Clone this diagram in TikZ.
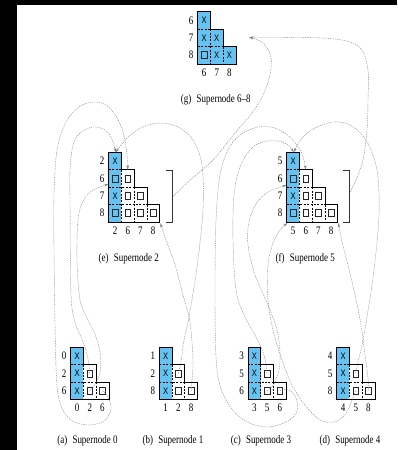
\documentclass[tikz,border=0pt]{standalone}
\usepackage{fontspec}
\usepackage{graphicx}
\setmainfont[FakeStretch=0.78]{Liberation Serif}
\newfontfamily\cellfont[FakeStretch=0.8]{Liberation Sans}
\usetikzlibrary{arrows.meta}
\definecolor{snblue}{RGB}{102,194,240}
\definecolor{linkgray}{RGB}{135,135,135}
\def\cw{12.7}
\def\ch{17.4}
\tikzset{
  outline/.style={draw=black, line width=0.6pt, line join=miter},
  innerline/.style={draw=black, line width=0.5pt, dash pattern=on 2pt off 1.4pt},
  cellx/.style={font=\cellfont\fontsize{9.5}{10}\selectfont, inner sep=0pt},
  cellsq/.style={draw=black!85, line width=0.55pt, minimum width=5.6pt, minimum height=7pt, inner sep=0pt},
  lbl/.style={font=\fontsize{11.5}{13}\selectfont, inner sep=0pt},
  captext/.style={font=\fontsize{11.5}{13}\selectfont, inner sep=0pt},
  bracket/.style={draw=black!80, line width=0.6pt},
  conn/.style={draw=linkgray, line width=0.4pt, dash pattern=on 1.3pt off 1pt,
    -{Stealth[length=4.5pt,width=2.6pt]}},
}

% staircase block: name, x0, y0, rows, all columns shaded (1) or only the first (0)
\newcommand{\snblock}[5]{%
  \begin{scope}[shift={(#2,#3)}]
    \pgfmathtruncatemacro{\snm}{#4-1}
    \ifnum#5=1
      \fill[snblue] (0,0) \foreach \k in {1,...,#4}{ -- ++(\cw,0) -- ++(0,\ch) } -- (0,#4*\ch) -- cycle;
    \else
      \fill[snblue] (0,0) rectangle (\cw,#4*\ch);
    \fi
    \foreach \r in {1,...,\snm}{
      \draw[innerline] (0,\r*\ch) -- (\r*\cw,\r*\ch);
      \draw[innerline] (\r*\cw,\r*\ch) -- (\r*\cw,#4*\ch);
    }
    \draw[outline] (0,0) \foreach \k in {1,...,#4}{ -- ++(\cw,0) -- ++(0,\ch) } -- (0,#4*\ch) -- cycle;
    \foreach \r in {1,...,#4}{
      \foreach \c in {1,...,\r}{
        \coordinate (#1-\r-\c) at ({(\c-0.5)*\cw},{(\r-0.5)*\ch});
      }
    }
  \end{scope}}

% cell contents: name, cells holding X, cells holding a small square
\newcommand{\snmarks}[3]{%
  \foreach \r/\c in {#2}{\node[cellx] (#1-\r-\c-x) at (#1-\r-\c) {X};}
  \foreach \r/\c in {#3}{\node[cellsq] (#1-\r-\c-sq) at (#1-\r-\c) {};}}

% row and column indices: name, x0, y0, rows, row labels, column labels
\newcommand{\snlabels}[6]{%
  \foreach \l [count=\i] in {#5}{\node[lbl] (#1-row\i) at (#2-6.5,{#3+(\i-0.5)*\ch}) {\l};}
  \foreach \l [count=\i] in {#6}{\node[lbl] (#1-col\i) at ({#2+(\i-0.5)*\cw},{#3+#4*\ch+8.6}) {\l};}}

\begin{document}
\begin{tikzpicture}[x=1pt,y=-1pt]
\useasboundingbox (0,0) rectangle (397,450);
\fill[black] (0,0) rectangle (397,450);
\fill[white] (17,5) rectangle (397,450);

% supernode 6-8
\snblock{g}{197.7}{11.7}{3}{1}
\snmarks{g}{1/1,2/1,2/2,3/2,3/3}{3/1}
\snlabels{g}{197.7}{11.7}{3}{6,7,8}{6,7,8}
\node[captext] (cap-g) at (215.8,99.3) {(g)\hspace{0.45em}Supernode 6--8};

% supernodes 2 and 5
\snblock{e}{108.7}{152.3}{4}{0}
\snmarks{e}{1/1,3/1}{2/1,2/2,3/2,3/3,4/1,4/2,4/3,4/4}
\snlabels{e}{108.7}{152.3}{4}{2,6,7,8}{2,6,7,8}
\node[captext] (cap-e) at (128.8,258.3) {(e)\hspace{0.45em}Supernode 2};

\snblock{f}{286.7}{152.3}{4}{0}
\snmarks{f}{1/1,3/1}{2/1,2/2,3/2,3/3,4/1,4/2,4/3,4/4}
\snlabels{f}{286.7}{152.3}{4}{5,6,7,8}{5,6,7,8}
\node[captext] (cap-f) at (305.3,258.3) {(f)\hspace{0.45em}Supernode 5};

% brackets around the update parts
\draw[bracket] (166,170.7) -- (172.7,170.7) -- (172.7,222.7) -- (166,222.7);
\draw[bracket] (343.3,170.7) -- (349.3,170.7) -- (349.3,222.7) -- (343.3,222.7);
\coordinate (e-br) at (173.5,196);
\coordinate (f-br) at (350.3,192);

% leaf supernodes
\snblock{a}{70.7}{347.3}{3}{0}
\snmarks{a}{1/1,2/1,3/1}{2/2,3/2,3/3}
\snlabels{a}{70.7}{347.3}{3}{0,2,6}{0,2,6}
\node[captext] (cap-a) at (87.5,440.7) {(a)\hspace{0.45em}Supernode 0};

\snblock{b}{159.3}{347.3}{3}{0}
\snmarks{b}{1/1,2/1,3/1}{2/2,3/2,3/3}
\snlabels{b}{159.3}{347.3}{3}{1,2,8}{1,2,8}
\node[captext] (cap-b) at (173,440.7) {(b)\hspace{0.45em}Supernode 1};

\snblock{c}{248}{347.3}{3}{0}
\snmarks{c}{1/1,2/1,3/1}{2/2,3/2,3/3}
\snlabels{c}{248}{347.3}{3}{3,5,6}{3,5,6}
\node[captext] (cap-c) at (261,440.7) {(c)\hspace{0.45em}Supernode 3};

\snblock{d}{336.7}{347.3}{3}{0}
\snmarks{d}{1/1,2/1,3/1}{2/2,3/2,3/3}
\snlabels{d}{336.7}{347.3}{3}{4,5,8}{4,5,8}
\node[captext] (cap-d) at (350,440.7) {(d)\hspace{0.45em}Supernode 4};

% arrow targets on the parent blocks
\coordinate (e-in-top) at (115.7,152.3);
\coordinate (e-in-c6) at (127.8,169.7);
\coordinate (e-in-r6) at (108.7,184);
\coordinate (e-in-br) at (160.3,223);
\coordinate (f-in-top) at (293.7,152.3);
\coordinate (f-in-c6) at (305.8,169.7);
\coordinate (f-in-r6) at (286.7,185);
\coordinate (f-in-br) at (338.3,223);
\coordinate (f-in-bl) at (287.5,223);
\coordinate (g-in) at (249,37.5);

% updates of supernode 0
\draw[conn] plot[smooth,tension=0.55] coordinates {(a-3-3) (108,397) (111,409) (104,421) (88,425) (71,420) (60,403) (56,367) (54,250) (54,195) (57,150) (66,122) (79,107) (93,102) (106,105) (116,116) (123,132) (126.5,150) (e-in-c6)};
\draw[conn] plot[smooth,tension=0.55] coordinates {(a-2-2) (88.5,362) (86,350) (81,337) (75,322) (71,295) (70,200) (70,170) (73,145) (80,133) (93,127) (105,130) (112,139) (e-in-top)};
\draw[conn] plot[smooth,tension=0.55] coordinates {(a-3-2) (96,383) (100.5,370) (100,352) (95,334) (88,320) (80,300) (77,260) (78,220) (83,201) (93,190) (e-in-r6)};

% updates of supernode 1
\draw[conn] plot[smooth,tension=0.55] coordinates {(b-2-2) (181,362) (184,340) (189,317) (197,267) (203,210) (202,165) (193,140) (178,127) (160,123) (143,127) (128,137) (e-in-top)};
\draw[conn] plot[smooth,tension=0.55] coordinates {(b-3-3) (192,380) (193,360) (190,322) (183,295) (175,265) (166,240) (e-in-br)};

% updates of supernode 3
\draw[conn] plot[smooth,tension=0.55] coordinates {(c-3-3) (289,390) (296,398) (297,411) (288,421) (268,427) (245,421) (227,402) (217,370) (215,300) (216,220) (220,175) (228,150) (240,135) (258,127) (275,128) (290,137) (300,150) (304,160) (f-in-c6)};
\draw[conn] plot[smooth,tension=0.55] coordinates {(c-2-2) (264,355) (256,337) (244,315) (236,290) (233,240) (234,195) (240,167) (250,150) (262,142) (278,141) (288,145) (f-in-top)};
\draw[conn] plot[smooth,tension=0.55] coordinates {(c-3-2) (274,384) (279,370) (280,353) (277,330) (268,305) (255,275) (248,245) (249,222) (256,204) (268,192) (f-in-r6)};

% updates of supernode 4
\draw[conn] plot[smooth,tension=0.55] coordinates {(d-2-2) (358,362) (362,345) (367,317) (374,270) (379,215) (377,170) (366,140) (350,125) (333,122) (315,128) (302,138) (f-in-top)};
\draw[conn] plot[smooth,tension=0.55] coordinates {(d-3-3) (368,378) (365,355) (361,325) (355,295) (348,265) (342,242) (f-in-br)};
\draw[conn] plot[smooth,tension=0.55] coordinates {(d-3-2) (352,400) (349,408) (344,416) (334,422) (320,420) (305,405) (292,385) (282,360) (273,330) (268,300) (268,265) (273,243) (280,230) (f-in-bl)};

% updates of supernodes 2 and 5
\draw[conn] plot[smooth,tension=0.55] coordinates {(e-br) (190,180) (213,160) (235,133) (252,113) (263,95) (270,75) (271,57) (265,45) (257,39.5) (g-in)};
\draw[conn] plot[smooth,tension=0.55] coordinates {(f-br) (356,180) (363,160) (367,130) (368,100) (368,70) (362,50) (350,42) (330,38.5) (300,37.5) (270,37.5) (g-in)};
\end{tikzpicture}
\end{document}
